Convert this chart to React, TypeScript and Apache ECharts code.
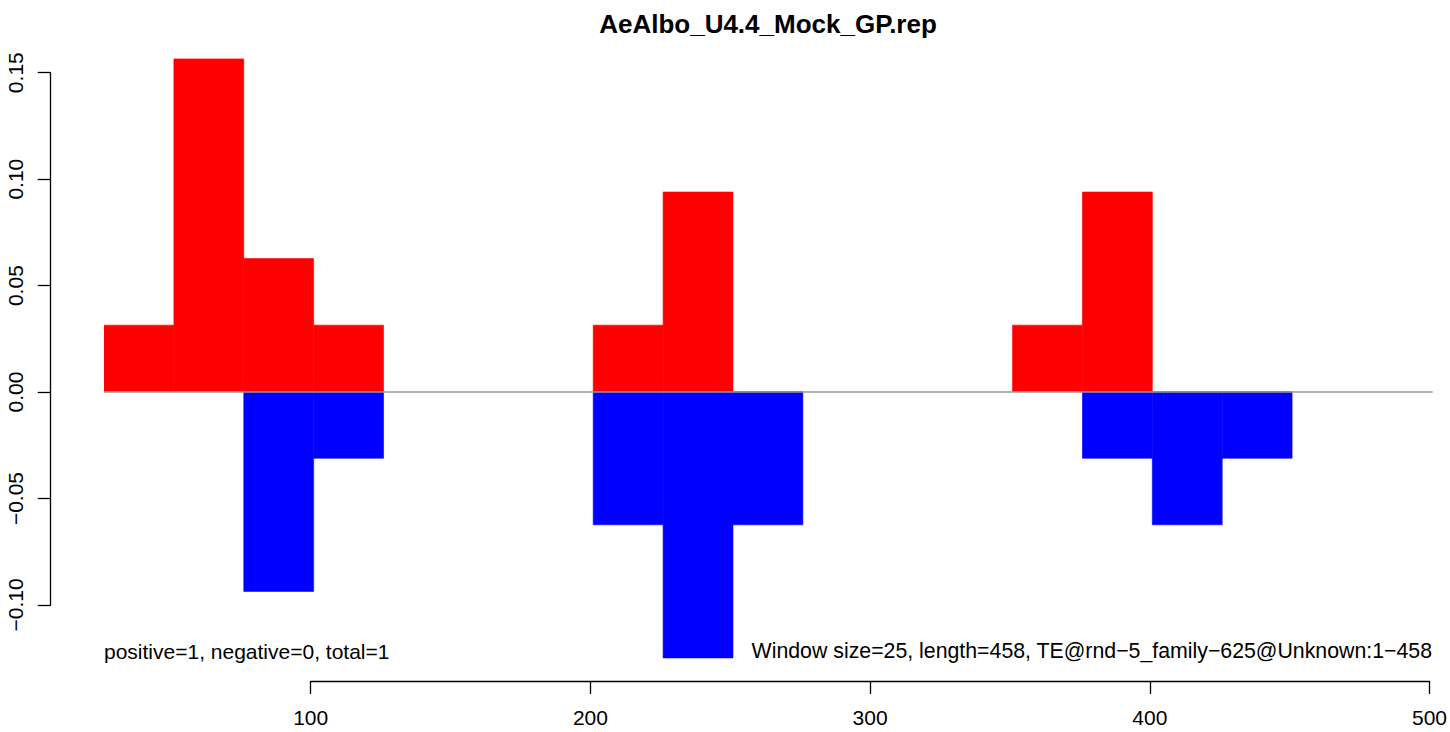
import React, { useEffect, useRef } from "react";
import * as echarts from "echarts";

const TITLE = "AeAlbo_U4.4_Mock_GP.rep";
const LEFT_NOTE = "positive=1, negative=0, total=1";
const RIGHT_NOTE = "Window size=25, length=458, TE@rnd\u22125_family\u2212625@Unknown:1\u2212458";

const WINDOW_SIZE = 25;
const windowStarts = [26, 51, 76, 101, 201, 226, 251, 351, 376, 401, 426];
const positiveValues = [0.03125, 0.15625, 0.0625, 0.03125, 0.03125, 0.09375, 0, 0.03125, 0.09375, 0, 0];
const negativeValues = [0, 0, -0.09375, -0.03125, -0.0625, -0.125, -0.0625, 0, -0.03125, -0.0625, -0.03125];

const yTicks = [-0.1, -0.05, 0, 0.05, 0.1, 0.15];
const xTicks = [100, 200, 300, 400, 500];

const FONT = "Liberation Sans, Arial, Helvetica, sans-serif";

export default function App() {
  const ref = useRef<HTMLDivElement>(null);

  useEffect(() => {
    if (!ref.current) return;
    const chart = echarts.init(ref.current, null, { renderer: "svg" });

    const posData = windowStarts.map((s, i) => [s, s + WINDOW_SIZE, positiveValues[i]]);
    const negData = windowStarts.map((s, i) => [s, s + WINDOW_SIZE, negativeValues[i]]);

    const renderRect = (color: string) => (params: any, api: any) => {
      const x0 = api.value(0);
      const x1 = api.value(1);
      const v = api.value(2);
      if (v === 0) return null;
      const p0 = api.coord([x0, 0]);
      const p1 = api.coord([x1, v]);
      return {
        type: "rect",
        shape: {
          x: p0[0],
          y: Math.min(p0[1], p1[1]),
          width: p1[0] - p0[0],
          height: Math.abs(p1[1] - p0[1]),
        },
        style: { fill: color, stroke: color, lineWidth: 0.6 },
      };
    };

    const minus = (s: string) => s.replace("-", "\u2212");

    chart.setOption({
      animation: false,
      backgroundColor: "#ffffff",
      textStyle: { fontFamily: FONT },
      grid: [
        { left: 104, right: 17.3, top: 50.9, bottom: 63.4 },
        { left: 50.7, width: 1, top: 72.7, bottom: 127 },
        { left: 310.7, right: 20.5, top: 660, bottom: 51 },
      ],
      xAxis: [
        { gridIndex: 0, type: "value", min: 26, max: 501.3, show: false },
        { gridIndex: 1, type: "value", min: 0, max: 1, show: false },
        {
          gridIndex: 2,
          type: "value",
          min: xTicks[0],
          max: xTicks[xTicks.length - 1],
          interval: 100,
          position: "bottom",
          axisLine: { show: true, lineStyle: { color: "#000", width: 1.3 } },
          axisTick: { show: true, length: 13, lineStyle: { color: "#000", width: 1.3 } },
          axisLabel: {
            show: true,
            margin: 26,
            fontSize: 21,
            color: "#000",
            fontFamily: FONT,
            showMinLabel: true,
            showMaxLabel: true,
          },
          splitLine: { show: false },
        },
      ],
      yAxis: [
        { gridIndex: 0, type: "value", min: -0.13, max: 0.16, show: false },
        {
          gridIndex: 1,
          type: "value",
          min: yTicks[0],
          max: yTicks[yTicks.length - 1],
          interval: 0.05,
          position: "left",
          axisLine: { show: true, lineStyle: { color: "#000", width: 1.3 } },
          axisTick: { show: true, length: 13, lineStyle: { color: "#000", width: 1.3 } },
          axisLabel: {
            show: true,
            rotate: 90,
            margin: 25,
            fontSize: 21,
            color: "#000",
            fontFamily: FONT,
            showMinLabel: true,
            showMaxLabel: true,
            formatter: (v: number) => minus(v.toFixed(2)),
          },
          splitLine: { show: false },
        },
        { gridIndex: 2, type: "value", min: 0, max: 1, show: false },
      ],
      series: [
        {
          type: "custom",
          name: "positive",
          xAxisIndex: 0,
          yAxisIndex: 0,
          data: posData,
          renderItem: renderRect("#ff0000"),
          silent: true,
          clip: true,
          markLine: {
            silent: true,
            symbol: ["none", "none"],
            label: { show: false },
            lineStyle: { color: "#9a9a9a", width: 1.5, type: "solid" },
            data: [{ yAxis: 0 }],
          },
        },
        {
          type: "custom",
          name: "negative",
          xAxisIndex: 0,
          yAxisIndex: 0,
          data: negData,
          renderItem: renderRect("#0000ff"),
          silent: true,
          clip: true,
        },
      ],
      graphic: [
        {
          type: "text",
          x: 768,
          y: 24,
          style: {
            text: TITLE,
            fontFamily: FONT,
            fontWeight: "bold",
            fontSize: 26,
            fill: "#000",
            align: "center",
            verticalAlign: "middle",
          },
        },
        {
          type: "text",
          x: 104,
          y: 651,
          style: {
            text: LEFT_NOTE,
            fontFamily: FONT,
            fontSize: 21,
            fill: "#000",
            align: "left",
            verticalAlign: "middle",
          },
        },
        {
          type: "text",
          x: 1432,
          y: 651,
          style: {
            text: RIGHT_NOTE,
            fontFamily: FONT,
            fontSize: 21.3,
            fill: "#000",
            align: "right",
            verticalAlign: "middle",
          },
        },
      ],
    });

    return () => chart.dispose();
  }, []);

  return (
    <div
      ref={ref}
      style={{ position: "fixed", left: 0, top: 0, width: 1450, height: 732, background: "#fff" }}
    />
  );
}
